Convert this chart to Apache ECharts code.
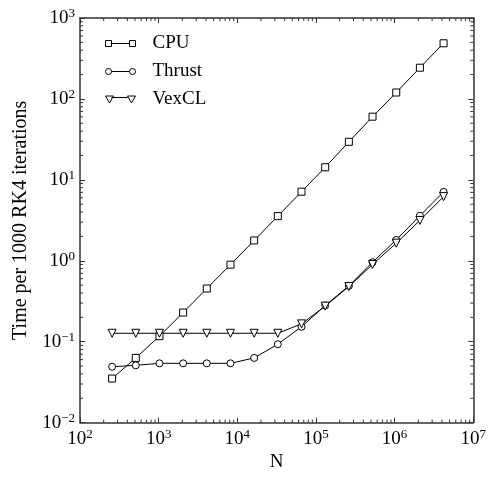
<!DOCTYPE html>
<html>
<head>
<meta charset="utf-8">
<script src="https://cdn.jsdelivr.net/npm/echarts@6/dist/echarts.min.js"></script>
<style>
  html, body { margin: 0; padding: 0; background: #fff; }
  #chart { width: 489px; height: 477px; }
</style>
</head>
<body>
<div id="chart"></div>
<script>
// problem sizes N = 2^8 .. 2^22
const sizes = [256, 512, 1024, 2048, 4096, 8192, 16384, 32768, 65536, 131072,
  262144, 524288, 1048576, 2097152, 4194304];
const cpu = [0.035, 0.063, 0.117, 0.229, 0.454, 0.895, 1.78, 3.56, 7.14, 14.3, 29.5, 60.3, 120, 243, 487];
const thrust = [0.049, 0.051, 0.054, 0.054, 0.054, 0.054, 0.063, 0.093, 0.153, 0.28, 0.49, 0.96, 1.81, 3.6, 7.1];
const vexcl = [0.127, 0.127, 0.127, 0.127, 0.127, 0.127, 0.127, 0.127, 0.166, 0.275, 0.48, 0.9, 1.65, 3.15, 6.2];

// minor ticks 2..9 per decade
const xMinor = [];
for (let k = 2; k < 7; k++) for (let m = 2; m <= 9; m++) xMinor.push(m * Math.pow(10, k));
const yMinor = [];
for (let k = -2; k < 3; k++) for (let m = 2; m <= 9; m++) yMinor.push(m * Math.pow(10, k));

const FONT = 'Liberation Serif';
const AXIS_COLOR = '#333';

function powLabel(v) {
  const e = Math.round(Math.log10(v));
  return '{b|10}{s|' + String(e).replace('-', '\u2212') + '}';
}
const richLabel = {
  b: { fontFamily: FONT, fontSize: 19, color: '#000', lineHeight: 22 },
  s: { fontFamily: FONT, fontSize: 13, color: '#000', verticalAlign: 'top', lineHeight: 13 }
};

const chart = echarts.init(document.getElementById('chart'));

const lineCommon = {
  type: 'line',
  xAxisIndex: 0,
  yAxisIndex: 0,
  lineStyle: { color: '#000', width: 1 },
  itemStyle: { color: '#fff', borderColor: '#000', borderWidth: 1 },
  showAllSymbol: true,
  animation: false
};

function minorSeries(vals, isX) {
  return {
    type: 'custom',
    xAxisIndex: 0,
    yAxisIndex: 0,
    silent: true,
    animation: false,
    data: vals.map(v => isX ? [v, 1] : [1000, v]),
    renderItem: function (params, api) {
      const cs = params.coordSys;
      const p = api.coord([api.value(0), api.value(1)]);
      const st = { stroke: AXIS_COLOR, lineWidth: 1 };
      const L = 3;
      if (isX) {
        return { type: 'group', children: [
          { type: 'line', shape: { x1: p[0], y1: cs.y + cs.height, x2: p[0], y2: cs.y + cs.height - L }, style: st },
          { type: 'line', shape: { x1: p[0], y1: cs.y, x2: p[0], y2: cs.y + L }, style: st }
        ] };
      }
      return { type: 'group', children: [
        { type: 'line', shape: { x1: cs.x, y1: p[1], x2: cs.x + L, y2: p[1] }, style: st },
        { type: 'line', shape: { x1: cs.x + cs.width, y1: p[1], x2: cs.x + cs.width - L, y2: p[1] }, style: st }
      ] };
    }
  };
}

const axisLineStyle = { show: true, lineStyle: { color: AXIS_COLOR, width: 1.5 } };
const tickStyle = { show: true, inside: true, length: 5, lineStyle: { color: AXIS_COLOR, width: 1 } };

const option = {
  animation: false,
  backgroundColor: '#fff',
  grid: { left: 80, right: 12, top: 18, bottom: 45 },
  legend: {
    orient: 'vertical',
    left: 100,
    top: 29,
    itemWidth: 30,
    itemHeight: 7,
    itemGap: 9,
    textStyle: { fontFamily: FONT, fontSize: 19, color: '#000', padding: [0, 0, 0, 12] },
    data: [
      { name: 'CPU', icon: 'path://M0,0.5 H6 V6.5 H0 Z M6,3.5 H24 M24,0.5 H30 V6.5 H24 Z',
        itemStyle: { color: '#fff', borderColor: '#000', borderWidth: 1 } },
      { name: 'Thrust', icon: 'path://M0,3.5 A3,3 0 1,1 6,3.5 A3,3 0 1,1 0,3.5 Z M6,3.5 H24 M24,3.5 A3,3 0 1,1 30,3.5 A3,3 0 1,1 24,3.5 Z',
        itemStyle: { color: '#fff', borderColor: '#000', borderWidth: 1 } },
      { name: 'VexCL', icon: 'path://M0,0 H8 L4,7 Z M6,1.5 H22 M22,0 H30 L26,7 Z',
        itemStyle: { color: '#fff', borderColor: '#000', borderWidth: 1 } }
    ]
  },
  xAxis: [
    {
      type: 'log', logBase: 10, min: 100, max: 1e7,
      name: 'N', nameLocation: 'middle', nameGap: 30,
      nameTextStyle: { fontFamily: FONT, fontSize: 19, color: '#000' },
      axisLine: axisLineStyle, axisTick: tickStyle,
      splitLine: { show: false },
      axisLabel: { formatter: powLabel, rich: richLabel, margin: 5 }
    },
    {
      type: 'log', logBase: 10, min: 100, max: 1e7, position: 'top',
      axisLine: axisLineStyle, axisTick: tickStyle,
      splitLine: { show: false }, axisLabel: { show: false }
    }
  ],
  yAxis: [
    {
      type: 'log', logBase: 10, min: 0.01, max: 1000,
      name: 'Time per 1000 RK4 iterations', nameLocation: 'middle', nameGap: 49,
      nameTextStyle: { fontFamily: FONT, fontSize: 20, color: '#000' },
      axisLine: axisLineStyle, axisTick: tickStyle,
      splitLine: { show: false },
      axisLabel: { formatter: powLabel, rich: richLabel, margin: 5 }
    },
    {
      type: 'log', logBase: 10, min: 0.01, max: 1000, position: 'right',
      axisLine: axisLineStyle, axisTick: tickStyle,
      splitLine: { show: false }, axisLabel: { show: false }
    }
  ],
  series: [
    minorSeries(xMinor, true),
    minorSeries(yMinor, false),
    Object.assign({}, lineCommon, {
      name: 'CPU', symbol: 'rect', symbolSize: 7,
      data: sizes.map((n, i) => [n, cpu[i]])
    }),
    Object.assign({}, lineCommon, {
      name: 'Thrust', symbol: 'circle', symbolSize: 7,
      data: sizes.map((n, i) => [n, thrust[i]])
    }),
    Object.assign({}, lineCommon, {
      name: 'VexCL', symbol: 'triangle', symbolSize: 8, symbolRotate: 180,
      data: sizes.map((n, i) => [n, vexcl[i]])
    })
  ]
};

chart.setOption(option);
</script>
</body>
</html>
